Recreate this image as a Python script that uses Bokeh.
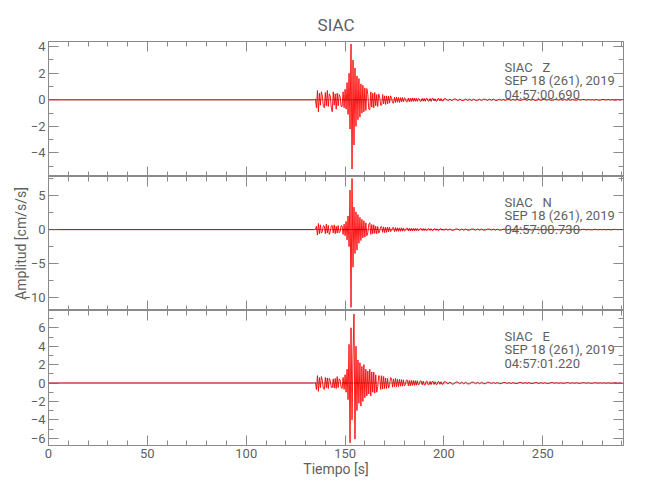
import numpy as np
from bokeh.plotting import figure
from bokeh.layouts import column
from bokeh.models import LinearAxis, SingleIntervalTicker, Range1d, Label, Span
from bokeh.embed import file_html
from bokeh.resources import INLINE

# ---------------- data ----------------
title_text = "SIAC"
x_label = "Tiempo [s]"
y_label = "Amplitud [cm/s/s]"

# sampling of the traces
t_pre = [0.0, 134.0]
t_main_start, t_main_step = 134.5, 0.5
t_tail_start, t_tail_step = 201.0, 1.0

# Z component
z_pre = [0.0, 0.0]
z_main = [
    0.02, 0.05, -0.60, 0.70, -0.90, 0.50, -0.40, 0.60, 0.30, -0.50,
    -0.60, 0.55, -0.45, 0.70, -0.50, 0.45, 0.30, -0.55, -0.90, 0.60,
    -0.40, 0.45, -0.70, 0.50, -0.45, 0.40, 0.25, -0.50, -0.50, 0.60,
    -0.60, 0.80, -0.70, 1.30, -1.10, 2.00, -2.20, 4.20, -5.20, 3.00,
    -3.40, 2.40, -2.00, 1.80, -1.50, 1.60, -1.30, 1.20, -1.00, 1.10,
    -0.90, 0.90, -0.80, 0.85, 0.40, -0.70, -0.75, 0.60, -0.55, 0.50,
    -0.60, 0.55, -0.45, 0.40, -0.50, 0.45, 0.20, -0.40, -0.40, 0.40,
    -0.30, 0.30, -0.35, 0.30, -0.30, 0.28, -0.25, 0.30, 0.15, -0.22,
    -0.25, 0.20, -0.20, 0.22, -0.18, 0.18, -0.20, 0.17, -0.15, 0.18,
    -0.16, 0.15, 0.10, -0.16, -0.13, 0.14, -0.15, 0.12, -0.13, 0.14,
    -0.12, 0.13, -0.11, 0.12, -0.12, 0.10, 0.06, -0.12, -0.10, 0.11,
    -0.10, 0.10, -0.11, 0.09, 0.12, -0.10, -0.08, 0.10, -0.12, 0.09,
    0.11, -0.09, 0.08, -0.10, -0.09, 0.10, 0.08, -0.09, 0.10, -0.08,
    -0.09, 0.08,
]
z_tail = [
    0.08, -0.07, 0.06, -0.08, 0.07, 0.05, -0.07, 0.06, -0.06, -0.05,
    0.07, -0.06, 0.05, -0.06, 0.06, -0.05, -0.04, 0.05, -0.06, 0.05,
    0.04, -0.05, 0.05, -0.04, 0.06, -0.05, -0.04, 0.05, -0.04, 0.04,
    -0.05, 0.04, 0.03, -0.04, 0.05, -0.04, 0.04, -0.03, -0.04, 0.04,
    0.03, -0.04, 0.04, -0.03, 0.04, -0.04, -0.03, 0.03, -0.04, 0.03,
    0.04, -0.03, 0.03, -0.03, -0.04, 0.03, 0.03, -0.03, 0.04, -0.03,
    0.03, -0.03, 0.02, -0.03, 0.03, -0.02, -0.03, 0.03, -0.02, 0.03,
    0.02, -0.03, 0.03, -0.02, 0.02, -0.03, 0.03, -0.02, -0.02, 0.03,
    0.02, -0.02, 0.03, -0.02, 0.02, -0.02, -0.02, 0.02, -0.02, 0.02,
]

# N component
n_pre = [0.0, 0.0]
n_main = [
    0.02, 0.04, 0.50, -0.80, 0.90, -0.60, 0.70, -0.50, -0.30, 0.60,
    0.50, -0.60, 0.80, -0.50, 0.60, -0.70, -0.30, 0.55, 0.60, -0.50,
    0.70, -0.60, 0.50, -0.50, 0.60, -0.45, -0.25, 0.60, 0.50, -0.70,
    0.80, -0.90, 1.20, -1.50, 2.00, -2.50, 5.80, -11.40, 7.50, -5.50,
    3.30, -3.50, 2.60, -3.00, 2.20, -2.00, 1.80, -1.60, 1.50, -1.20,
    1.30, -1.10, 1.00, -0.90, -0.40, 0.80, 1.00, -0.70, 0.75, -0.60,
    0.70, -0.55, 0.50, -0.60, 0.45, -0.50, -0.20, 0.40, 0.45, -0.40,
    0.40, -0.45, 0.35, -0.40, 0.38, -0.32, 0.35, -0.30, -0.15, 0.30,
    0.30, -0.28, 0.30, -0.25, 0.28, -0.26, 0.25, -0.24, 0.26, -0.22,
    0.24, -0.22, -0.12, 0.20, 0.22, -0.20, 0.20, -0.19, 0.20, -0.18,
    0.18, -0.17, 0.18, -0.16, 0.17, -0.15, -0.08, 0.15, 0.15, -0.14,
    0.15, -0.14, 0.14, -0.13, -0.12, 0.14, 0.12, -0.13, 0.13, -0.11,
    -0.12, 0.12, 0.11, -0.12, 0.12, -0.10, -0.11, 0.11, 0.12, -0.10,
    0.10, -0.11,
]
n_tail = [
    0.11, -0.10, 0.10, -0.11, -0.09, 0.10, 0.09, -0.10, 0.10, -0.09,
    0.09, -0.09, -0.08, 0.09, 0.08, -0.09, 0.09, -0.08, 0.08, -0.08,
    -0.07, 0.08, 0.08, -0.07, 0.07, -0.08, 0.07, -0.07, -0.06, 0.07,
    0.07, -0.06, 0.06, -0.07, 0.06, -0.06, -0.06, 0.06, 0.06, -0.05,
    0.06, -0.06, 0.05, -0.05, -0.05, 0.06, 0.05, -0.05, 0.05, -0.05,
    0.05, -0.04, -0.05, 0.05, 0.04, -0.05, 0.05, -0.04, 0.04, -0.05,
    -0.04, 0.04, 0.05, -0.04, 0.04, -0.04, 0.04, -0.04, -0.04, 0.04,
    0.04, -0.04, 0.04, -0.03, -0.04, 0.04, 0.03, -0.04, 0.04, -0.03,
    0.03, -0.04, 0.04, -0.03, -0.03, 0.04, 0.03, -0.03, 0.03, -0.03,
]

# E component
e_pre = [0.0, 0.0]
e_main = [
    0.02, 0.05, -0.70, 0.80, -0.90, 0.60, -0.50, 0.70, 0.30, -0.60,
    -0.70, 0.60, -0.50, 0.55, -0.60, 0.50, 0.25, -0.45, -0.50, 0.45,
    -0.55, 0.50, -0.60, 0.70, -0.50, 0.45, 0.30, -0.50, -0.60, 0.60,
    -0.70, 0.90, -1.00, 1.50, -1.80, 4.20, -6.50, 6.00, -4.00, 3.00,
    7.50, -6.10, 4.00, -3.00, 2.50, -2.20, 2.20, -2.50, 1.80, -2.00,
    2.00, -1.60, 1.50, -1.40, 1.30, -1.20, 1.50, -1.40, 1.20, -1.00,
    1.20, -1.10, 0.90, -1.00, -0.40, 0.80, 0.75, -0.70, 0.80, -0.65,
    0.70, -0.60, 0.55, -0.60, 0.50, -0.55, -0.20, 0.60, 0.50, -0.45,
    0.45, -0.40, 0.50, -0.40, 0.42, -0.38, 0.40, -0.35, 0.38, -0.35,
    0.35, -0.32, -0.15, 0.34, 0.30, -0.32, 0.28, -0.30, 0.30, -0.26,
    0.27, -0.25, 0.26, -0.24, 0.25, -0.22, -0.10, 0.24, 0.22, -0.20,
    0.21, -0.20, -0.20, 0.19, 0.18, -0.19, -0.17, 0.18, -0.18, 0.16,
    0.17, -0.16, 0.15, -0.16, -0.15, 0.15, 0.14, -0.15, 0.14, -0.13,
    -0.14, 0.13,
]
e_tail = [
    0.13, -0.12, 0.12, -0.12, -0.11, 0.11, 0.11, -0.10, 0.10, -0.10,
    0.09, -0.10, -0.09, 0.09, 0.09, -0.08, 0.08, -0.08, 0.08, -0.07,
    -0.07, 0.08, 0.07, -0.07, 0.07, -0.06, 0.06, -0.07, -0.06, 0.06,
    0.06, -0.06, 0.05, -0.06, 0.05, -0.05, -0.05, 0.05, 0.05, -0.05,
    0.05, -0.04, 0.05, -0.05, -0.04, 0.04, 0.04, -0.05, 0.04, -0.04,
    0.04, -0.04, -0.04, 0.04, 0.04, -0.03, 0.04, -0.04, 0.03, -0.03,
    -0.03, 0.04, 0.03, -0.03, 0.03, -0.03, 0.03, -0.03, -0.03, 0.03,
    0.03, -0.03, 0.03, -0.02, -0.03, 0.03, 0.02, -0.03, 0.03, -0.02,
    0.02, -0.03, 0.02, -0.02, -0.02, 0.02, 0.02, -0.02, 0.02, -0.02,
]

station = "SIAC"
components = ["Z", "N", "E"]
date_text = "SEP 18 (261), 2019"
start_times = ["04:57:00.690", "04:57:00.730", "04:57:01.220"]

x_limits = (0.0, 290.8)
y_limits = [(-5.77, 4.39), (-11.86, 7.79), (-6.79, 7.88)]
y_major = [2, 5, 2]

# ---------------- styling ----------------
FONT = "Roboto"
TXT = "#5f5f5f"
AX = "#8a8a8a"
ML, FW, MR = 48, 575, 19
W = ML + FW + MR


def build_time(main, tail):
    return np.concatenate([
        np.array(t_pre),
        t_main_start + t_main_step * np.arange(len(main)),
        t_tail_start + t_tail_step * np.arange(len(tail)),
    ])


traces = [
    (z_pre + z_main + z_tail, build_time(z_main, z_tail)),
    (n_pre + n_main + n_tail, build_time(n_main, n_tail)),
    (e_pre + e_main + e_tail, build_time(e_main, e_tail)),
]

x_range = Range1d(*x_limits)


def mk_axis(ticker, labels=False):
    ax = LinearAxis(
        ticker=ticker,
        axis_line_color=AX, major_tick_line_color=AX, minor_tick_line_color=AX,
        major_tick_in=10, major_tick_out=0, minor_tick_in=5, minor_tick_out=0,
        major_label_text_font=FONT, major_label_text_color=TXT,
        major_label_text_font_size="13px", major_label_standoff=3,
    )
    if not labels:
        ax.major_label_text_font_size = "0px"
        ax.major_label_text_color = None
        ax.major_label_standoff = 0
    return ax


frame_heights = [135, 134, 135]
tops = [41, 0, 0]
bottoms = [0, 0, 45]
figs = []
for i in range(3):
    vals, tt = traces[i]
    fh = frame_heights[i]
    p = figure(
        width=W, height=fh + tops[i] + bottoms[i],
        x_range=x_range, y_range=Range1d(*y_limits[i]),
        output_backend="svg", toolbar_location=None,
        x_axis_location=None, y_axis_location=None,
        min_border_left=ML, min_border_right=MR,
        min_border_top=tops[i], min_border_bottom=bottoms[i],
    )
    p.outline_line_color = AX
    p.background_fill_color = "white"
    p.border_fill_color = "white"
    for g in p.grid:
        g.visible = False

    xt = SingleIntervalTicker(interval=50, num_minor_ticks=5)
    yt = SingleIntervalTicker(interval=y_major[i], num_minor_ticks=2)
    bottom_ax = mk_axis(xt, labels=(i == 2))
    top_ax = mk_axis(xt)
    left_ax = mk_axis(yt, labels=True)
    right_ax = mk_axis(yt)
    if i == 2:
        bottom_ax.axis_label = x_label
        bottom_ax.axis_label_text_font = FONT
        bottom_ax.axis_label_text_font_size = "14px"
        bottom_ax.axis_label_text_font_style = "normal"
        bottom_ax.axis_label_text_color = TXT
        bottom_ax.axis_label_standoff = 0
    if i == 1:
        left_ax.axis_label = y_label
        left_ax.axis_label_text_font = FONT
        left_ax.axis_label_text_font_size = "14px"
        left_ax.axis_label_text_font_style = "normal"
        left_ax.axis_label_text_color = TXT
        left_ax.axis_label_standoff = -9
    p.add_layout(bottom_ax, "below")
    p.add_layout(top_ax, "above")
    p.add_layout(left_ax, "left")
    p.add_layout(right_ax, "right")

    p.line(tt, vals, line_color="red", line_width=0.9)
    p.add_layout(Span(location=0, dimension="width", line_color="black",
                      line_width=0.6, line_alpha=0.6))

    texts = [station + "\u00a0\u00a0\u00a0" + components[i], date_text, start_times[i]]
    offs = [25.5, 39.2, 53.0]
    for txt, off in zip(texts, offs):
        p.add_layout(Label(
            x=456, y=fh - off, x_units="screen", y_units="screen", text=txt,
            text_font=FONT, text_font_size="13px", text_color=TXT,
            text_baseline="alphabetic", text_align="left",
        ))

    if i == 0:
        p.title.text = title_text
        p.title.align = "center"
        p.title.text_font = FONT
        p.title.text_font_size = "17px"
        p.title.text_font_style = "normal"
        p.title.text_color = TXT
        p.title.standoff = 14
    figs.append(p)

layout = column(*figs, spacing=0)
open("out.html", "w").write(file_html(layout, INLINE))
